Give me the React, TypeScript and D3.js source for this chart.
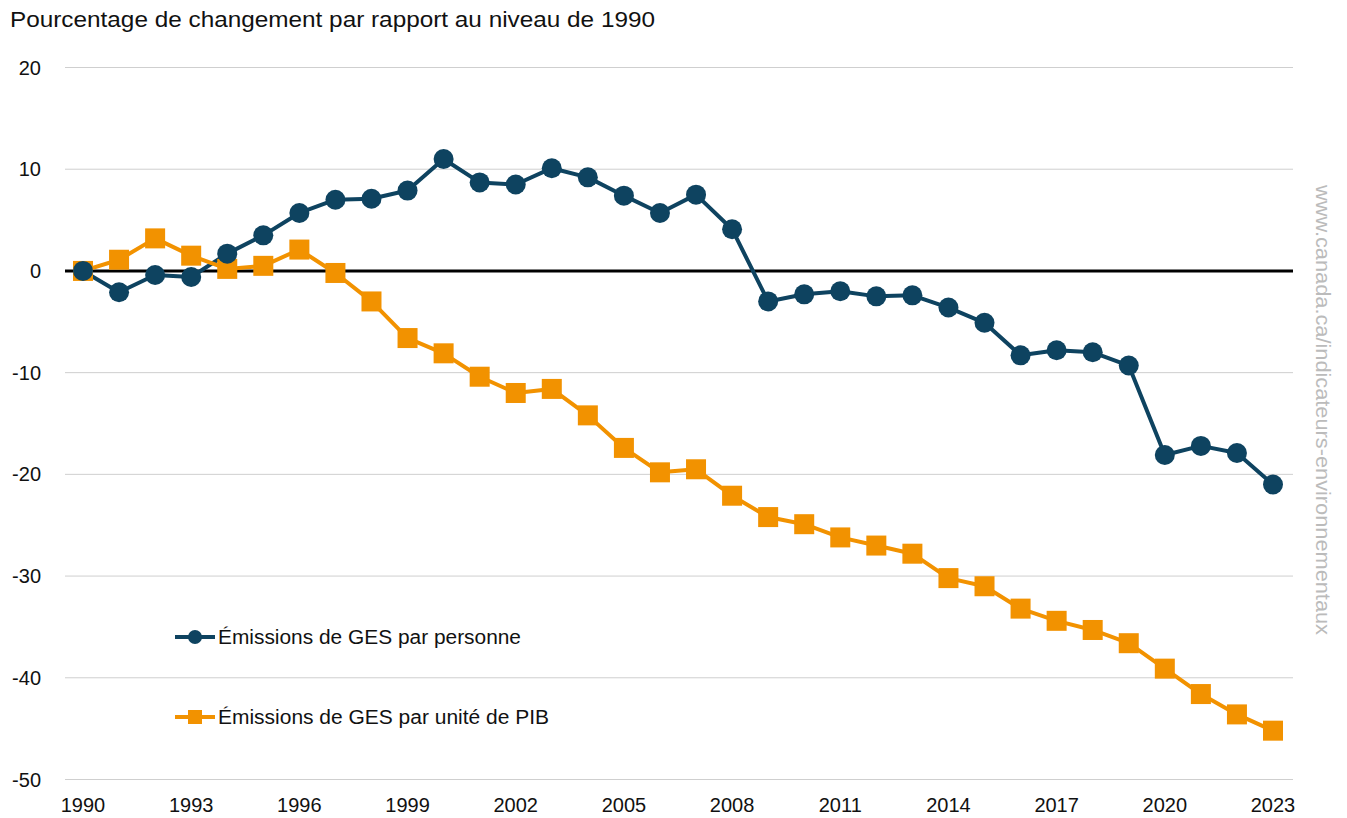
import React from "react";
import * as d3 from "d3";

const years = d3.range(1990, 2024);
const perPerson = [0, -2.1, -0.4, -0.6, 1.7, 3.5, 5.7, 7.0, 7.1, 7.9, 11.0, 8.7, 8.5, 10.1, 9.2, 7.4, 5.7, 7.5, 4.1, -3.0, -2.3, -2.0, -2.5, -2.4, -3.6, -5.1, -8.3, -7.8, -8.0, -9.3, -18.1, -17.2, -17.9, -21.0];
const perGDP = [0, 1.1, 3.2, 1.5, 0.2, 0.5, 2.1, -0.2, -3.0, -6.6, -8.1, -10.4, -12.0, -11.6, -14.2, -17.4, -19.8, -19.5, -22.1, -24.2, -24.9, -26.2, -27.0, -27.8, -30.2, -31.0, -33.2, -34.4, -35.3, -36.6, -39.1, -41.6, -43.6, -45.2];
const yTicks = [20, 10, 0, -10, -20, -30, -40, -50];
const xTicks = [1990, 1993, 1996, 1999, 2002, 2005, 2008, 2011, 2014, 2017, 2020, 2023];
const seriesNames = ["Émissions de GES par personne", "Émissions de GES par unité de PIB"];
const title = "Pourcentage de changement par rapport au niveau de 1990";
const watermark = "www.canada.ca/indicateurs-environnementaux";

const BLUE = "#0e4360";
const ORANGE = "#f29200";
const FONT = "'Liberation Sans', Arial, sans-serif";

export default function App() {
  const W = 1347, H = 818;
  const x = d3.scaleLinear().domain([1990, 2023]).range([83, 1273]);
  const y = d3.scaleLinear().domain([20, -50]).range([67.5, 779.5]);
  const gridL = 65, gridR = 1293;
  const line = d3.line<number>().x((_, i) => x(years[i])).y((d) => y(d));

  const sq = 20, r = 10;
  return (
    <svg width={W} height={H} style={{ position: "absolute", left: 0, top: 0, background: "#fff" }} fontFamily={FONT}>
      <text x={10} y={27} fontSize={22} fill="#111" textLength={645} lengthAdjust="spacingAndGlyphs">{title}</text>
      {yTicks.map((t) => (
        <g key={t}>
          {t !== 0 && <line x1={gridL} x2={gridR} y1={y(t)} y2={y(t)} stroke="#cfcfcf" strokeWidth={1} />}
          <text x={41} y={y(t) + 7} fontSize={20} textAnchor="end" fill="#111">{t}</text>
        </g>
      ))}
      <line x1={gridL} x2={gridR} y1={y(0)} y2={y(0)} stroke="#000" strokeWidth={3} />
      {xTicks.map((t) => (
        <text key={t} x={x(t)} y={812} fontSize={20} textAnchor="middle" fill="#111">{t}</text>
      ))}
      <path d={line(perPerson) || ""} fill="none" stroke={BLUE} strokeWidth={4} strokeLinejoin="round" />
      <path d={line(perGDP) || ""} fill="none" stroke={ORANGE} strokeWidth={4} strokeLinejoin="round" />
      {perGDP.map((v, i) => (
        <rect key={"g" + i} x={x(years[i]) - sq / 2} y={y(v) - sq / 2} width={sq} height={sq} fill={ORANGE} />
      ))}
      {perPerson.map((v, i) => (
        <circle key={"p" + i} cx={x(years[i])} cy={y(v)} r={r} fill={BLUE} />
      ))}
      <g>
        <line x1={175} x2={215} y1={637} y2={637} stroke={BLUE} strokeWidth={4} />
        <circle cx={195} cy={637} r={7} fill={BLUE} />
        <text x={218} y={644} fontSize={20} fill="#111" textLength={303} lengthAdjust="spacingAndGlyphs">{seriesNames[0]}</text>
        <line x1={175} x2={215} y1={717} y2={717} stroke={ORANGE} strokeWidth={4} />
        <rect x={188} y={710} width={14} height={14} fill={ORANGE} />
        <text x={218} y={724} fontSize={20} fill="#111" textLength={331} lengthAdjust="spacingAndGlyphs">{seriesNames[1]}</text>
      </g>
      <text transform={`translate(1316, 410) rotate(90)`} textAnchor="middle" fontSize={21} fill="#bbbbbb" textLength={450} lengthAdjust="spacingAndGlyphs">{watermark}</text>
    </svg>
  );
}
